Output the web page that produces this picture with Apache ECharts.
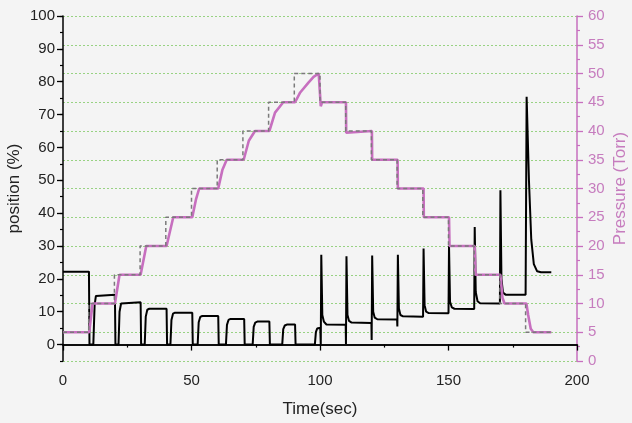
<!DOCTYPE html>
<html><head><meta charset="utf-8">
<script src="https://cdn.jsdelivr.net/npm/echarts@6/dist/echarts.min.js"></script>
<style>html,body{margin:0;padding:0;background:#f4f4f4;}#c{width:632px;height:423px;}</style>
</head><body><div id="c"></div>
<script>
// Valve position (%) vs time (sec)
const posTime = [0,10.1,10.3,11.8,12.3,12.8,13.5,20.2,20.4,21.6,22.0,22.6,23.3,30.2,30.4,31.8,32.2,32.8,33.6,40.3,40.5,41.8,42.2,42.8,43.6,50.3,50.5,52.4,52.8,53.4,54.2,60.4,60.6,63.4,63.8,64.4,65.2,70.5,70.7,73.8,74.2,74.8,75.6,80.3,80.5,85.3,85.7,86.3,87.1,90.3,90.5,98.0,98.4,98.9,99.6,100.1,100.3,100.5,100.9,101.5,102.5,110.0,110.1,110.3,110.7,111.3,112.3,120.0,120.1,120.3,120.7,121.3,122.3,130.0,130.1,130.3,130.7,131.3,132.3,140.1,140.3,140.7,141.3,142.3,150.0,150.2,150.6,151.3,152.3,160.0,160.2,160.6,161.3,162.3,170.0,170.2,170.6,171.2,172.2,180.0,180.4,181.3,182.2,183.2,184.5,186,190];
const posValue = [22.2,22.2,0,0,12,14.8,15.2,15.2,0,0,10,12.5,12.9,12.9,0,0,8.5,10.6,10.9,10.9,0,0,7.5,9.4,9.7,9.7,0,0,6.8,8.4,8.7,8.7,0,0,6,7.5,7.8,7.8,0,0,5.4,6.7,7.0,7.0,0,0,4.7,5.8,6.1,6.1,0,0,3.8,4.9,5.1,5.1,0,27.3,9,7,6.1,6.0,0.2,26.9,9,7.2,6.7,6.6,1.4,27.1,10,8.2,7.7,7.6,5.5,27.3,11,9,8.6,8.5,29.2,12,10,9.6,9.5,30,13,11.3,10.9,10.8,35.8,16,13.2,12.6,12.5,47,20,15.8,15.2,15.2,75.4,50,32,24.5,22.3,22,22];
// Measured pressure (Torr)
const presTime = [0,10.2,11.5,20.2,22.0,30.2,32.4,40.3,42.9,50.3,51.8,53.0,60.4,62.0,63.7,70.3,72.3,74.7,80.3,82.5,85.7,90.3,92.3,95.5,97.5,99.5,100.2,100.3,100.8,110.1,110.2,110.6,120.2,120.3,130.2,130.3,140.3,140.4,150.2,150.4,160.2,160.5,170.2,171.0,171.8,180.3,181.0,182.0,183.0,190];
const presValue = [5,5,10,10,15,15,20,20,25,25,28.2,30,30,33.2,35,35,38.3,40,40,43.2,45,45,46.7,48.4,49.4,50,50,44.3,45,45,39.7,40,40,35,35,30,30,25,25,20,20,15,15,11,10,10,8,5.6,5,5];
// Pressure setpoint (Torr), step changes
const setTime = [0,10,20,30,40,50,60,70,80,90,100,110,120,130,140,150,160,170,180,190];
const setValue = [5,10,15,20,25,30,35,40,45,50,45,40,35,30,25,20,15,10,5,5];
// Axis tick labels
const xTicks = [0,50,100,150,200];
const leftTicks = [0,10,20,30,40,50,60,70,80,90,100];
const rightTicks = [0,5,10,15,20,25,30,35,40,45,50,55,60];

const pink = '#c76fbf';
const pinkText = '#c67cbe';
const font = 'Liberation Sans, Arial, sans-serif';
const zip = (a,b)=>a.map((t,i)=>[t,b[i]]);

const chart = echarts.init(document.getElementById('c'), null, {renderer:'canvas'});
chart.setOption({
  backgroundColor:'#f4f4f4',
  animation:false,
  textStyle:{fontFamily:font},
  grid:{left:63,right:55,top:16,bottom:62,containLabel:false,outerBoundsMode:'none'},
  xAxis:[{
    type:'value',min:0,max:200,interval:50,position:'bottom',
    name:'Time(sec)',nameLocation:'middle',nameGap:40,nameMoveOverlap:false,
    nameTextStyle:{fontSize:17,color:'#222',fontFamily:font},
    axisLine:{lineStyle:{color:'#000',width:1.5}},
    axisTick:{show:true,length:6,lineStyle:{color:'#000',width:1.3}},
    minorTick:{show:true,splitNumber:2,length:3,lineStyle:{color:'#000',width:1.2}},
    axisLabel:{fontSize:15,color:'#222',margin:12,fontFamily:font,customValues:xTicks},
    splitLine:{show:false}
  },{
    type:'value',min:0,max:200,position:'top',
    axisLine:{show:true,lineStyle:{color:'#000',width:1.5}},
    axisTick:{show:false},axisLabel:{show:false},splitLine:{show:false}
  }],
  yAxis:[{
    type:'value',min:-5,max:100,position:'left',
    name:'position (%)',nameLocation:'middle',nameGap:40,nameRotate:90,nameMoveOverlap:false,
    nameTextStyle:{fontSize:17,color:'#222',fontFamily:font},
    axisLine:{show:true,lineStyle:{color:'#000',width:1.5}},
    axisTick:{show:true,length:6,customValues:leftTicks,lineStyle:{color:'#000',width:1.3}},
    axisLabel:{fontSize:15,color:'#222',margin:8,fontFamily:font,customValues:leftTicks},
    splitLine:{show:false}
  },{
    type:'value',min:-5,max:100,interval:5,position:'left',
    axisLine:{show:false},
    axisTick:{show:true,length:3,lineStyle:{color:'#000',width:1.2}},
    axisLabel:{show:false},splitLine:{show:false}
  },{
    type:'value',min:0,max:60,interval:5,position:'right',
    name:'Pressure (Torr)',nameLocation:'middle',nameGap:35,nameRotate:90,nameMoveOverlap:false,
    nameTextStyle:{fontSize:17,color:pinkText,fontFamily:font},
    axisLine:{show:true,lineStyle:{color:pink,width:1.5}},
    axisTick:{show:true,length:6,lineStyle:{color:pink,width:1.3}},
    minorTick:{show:true,splitNumber:2,length:3,lineStyle:{color:pink,width:1.2}},
    axisLabel:{fontSize:15,color:pinkText,margin:11,fontFamily:font,customValues:rightTicks},
    splitLine:{show:true,lineStyle:{color:'#98d283',type:[2,2],width:1}}
  }],
  series:[{
    name:'position',type:'line',xAxisIndex:0,yAxisIndex:0,
    data:zip(posTime,posValue),showSymbol:false,symbol:'none',
    lineStyle:{color:'#000',width:2},z:3
  },{
    name:'pressure',type:'line',xAxisIndex:0,yAxisIndex:2,
    data:zip(presTime,presValue),showSymbol:false,symbol:'none',
    lineStyle:{color:pink,width:2.6},z:4
  },{
    name:'setpoint',type:'line',xAxisIndex:0,yAxisIndex:2,step:'end',
    data:zip(setTime,setValue),showSymbol:false,symbol:'none',
    lineStyle:{color:'#7a7a7a',width:1.5,type:[4,3]},z:5
  }]
});
</script></body></html>
